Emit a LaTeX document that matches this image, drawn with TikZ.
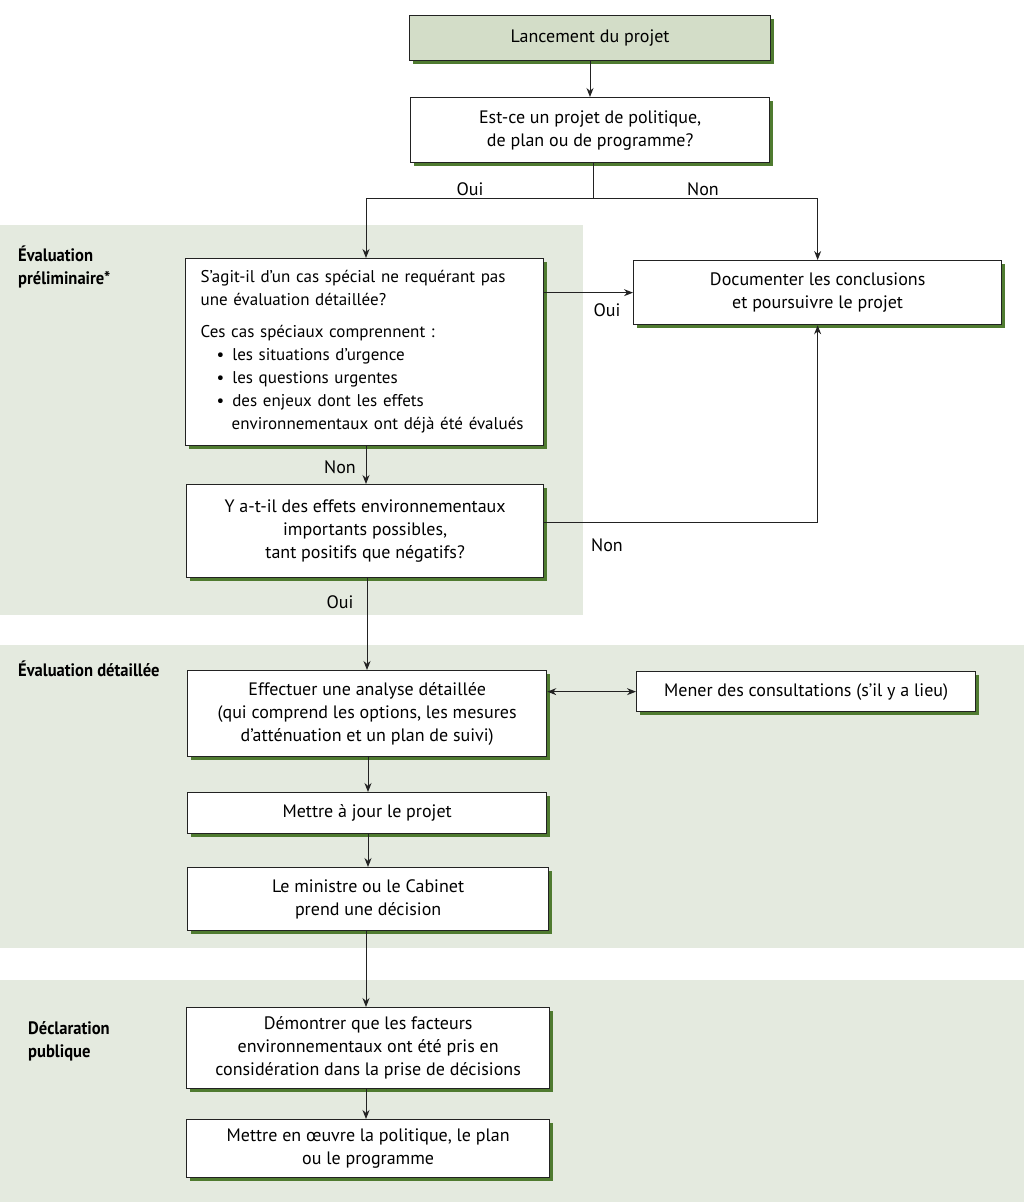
\documentclass[tikz,border=0pt]{standalone}
\usepackage{fontspec}
\setmainfont{PT Sans}
\newfontfamily\hdr[FakeStretch=0.92]{PT Sans Bold}
\usetikzlibrary{shadows,arrows.meta}
\definecolor{band}{HTML}{E4EADF}
\definecolor{topfill}{HTML}{D3DDC8}
\definecolor{shgreen}{HTML}{4F7B30}
\definecolor{edge}{HTML}{222222}
\tikzset{
  box/.style={draw=edge, line width=1.3pt, fill=white, anchor=north west,
    align=center, inner sep=0pt,
    font=\fontsize{18}{23}\selectfont,
    drop shadow={shadow xshift=3pt, shadow yshift=-3pt, fill=shgreen, opacity=1}},
  arr/.style={-{Stealth[length=9pt,width=7pt]}, line width=1pt, draw=edge},
  arrr/.style={{Stealth[length=9pt,width=7pt]}-{Stealth[length=9pt,width=7pt]}, line width=1pt, draw=edge},
  lbl/.style={font=\fontsize{18}{23}\selectfont, inner sep=0pt},
  hd/.style={font=\hdr\fontsize{18}{23}\selectfont, align=left, anchor=north west, inner sep=0pt}
}
\begin{document}
\begin{tikzpicture}[x=1pt,y=-1pt]
\useasboundingbox (0,0) rectangle (1024,1202);
% bands
\fill[band] (0,225) rectangle (583,615);
\fill[band] (0,645) rectangle (1024,948);
\fill[band] (0,980) rectangle (1024,1202);
% headers
\node[hd] (h1) at (18,246) {Évaluation\\préliminaire*};
\node[hd] (h2) at (18,661) {Évaluation détaillée};
\node[hd] (h3) at (28,1021) {Déclaration\\publique};
% boxes
\node[box, fill=topfill, minimum width=361, minimum height=45] (lance) at (409,15) {Lancement du projet};
\node[box, minimum width=359, minimum height=65] (estce) at (410,97) {Est-ce un projet de politique,\\de plan ou de programme?};
\node[box, minimum width=358, minimum height=187, align=left, text width=352, inner xsep=3pt,
  font=\fontsize{17}{23}\selectfont] (sagit) at (185,258) {%
\hspace*{12pt}\mbox{S’agit-il d’un cas spécial ne requérant pas}\\
\hspace*{12pt}\mbox{une évaluation détaillée?}\\[9pt]
\hspace*{12pt}\mbox{Ces cas spéciaux comprennent :}\\
\hspace*{28pt}•\hspace{8pt}\mbox{les situations d’urgence}\\
\hspace*{28pt}•\hspace{8pt}\mbox{les questions urgentes}\\
\hspace*{28pt}•\hspace{8pt}\mbox{des enjeux dont les effets}\\
\hspace*{43pt}\mbox{environnementaux ont déjà été évalués}};
\node[box, minimum width=368, minimum height=64] (doc) at (633,260) {Documenter les conclusions\\et poursuivre le projet};
\node[box, minimum width=357, minimum height=93] (yatil) at (186,484) {Y a-t-il des effets environnementaux\\importants possibles,\\tant positifs que négatifs?};
\node[box, minimum width=359, minimum height=86] (effect) at (187,670) {Effectuer une analyse détaillée\\(qui comprend les options, les mesures\\d’atténuation et un plan de suivi)};
\node[box, minimum width=339, minimum height=40] (mener) at (636,671) {Mener des consultations (s’il y a lieu)};
\node[box, minimum width=359, minimum height=41] (maj) at (187,792) {Mettre à jour le projet};
\node[box, minimum width=361, minimum height=63] (minis) at (187,867) {Le ministre ou le Cabinet\\prend une décision};
\node[box, minimum width=363, minimum height=81] (demon) at (186,1007) {Démontrer que les facteurs\\environnementaux ont été pris en\\considération dans la prise de décisions};
\node[box, minimum width=363, minimum height=58] (oeuvre) at (186,1119) {Mettre en œuvre la politique, le plan\\ou le programme};
% column positions
\coordinate (ca) at (590,0);
\coordinate (cb) at (593,0);
\coordinate (c1) at (366,0);
\coordinate (c2) at (367,0);
\coordinate (c3) at (368,0);
% connectors
\draw[arr] (ca |- lance.south) -- (ca |- estce.north);
\coordinate (split) at (cb |- 0,198);
\draw[line width=1pt, draw=edge] (cb |- estce.south) -- (split);
\draw[arr] (split) -| (c1 |- sagit.north);
\draw[arr] (split) -| (doc.north);
\draw[arr] (sagit.east |- doc.west) -- (doc.west);
\draw[arr] (c1 |- sagit.south) -- (c1 |- yatil.north);
\draw[arr] ([yshift=9pt]yatil.east) -| (doc.south);
\draw[arr] (c2 |- yatil.south) -- (c2 |- effect.north);
\draw[arrr] (effect.east |- mener.west) -- (mener.west);
\draw[arr] (c3 |- effect.south) -- (c3 |- maj.north);
\draw[arr] (c3 |- maj.south) -- (c3 |- minis.north);
\draw[arr] (c1 |- minis.south) -- (c1 |- demon.north);
\draw[arr] (c1 |- demon.south) -- (c1 |- oeuvre.north);
% labels
\node[lbl] (l1) at (470,189) {Oui};
\node[lbl] (l2) at (703,189) {Non};
\node[lbl] (l3) at (607,310) {Oui};
\node[lbl] (l4) at (340,467) {Non};
\node[lbl] (l5) at (607,545) {Non};
\node[lbl] (l6) at (340,602) {Oui};
\end{tikzpicture}
\end{document}
